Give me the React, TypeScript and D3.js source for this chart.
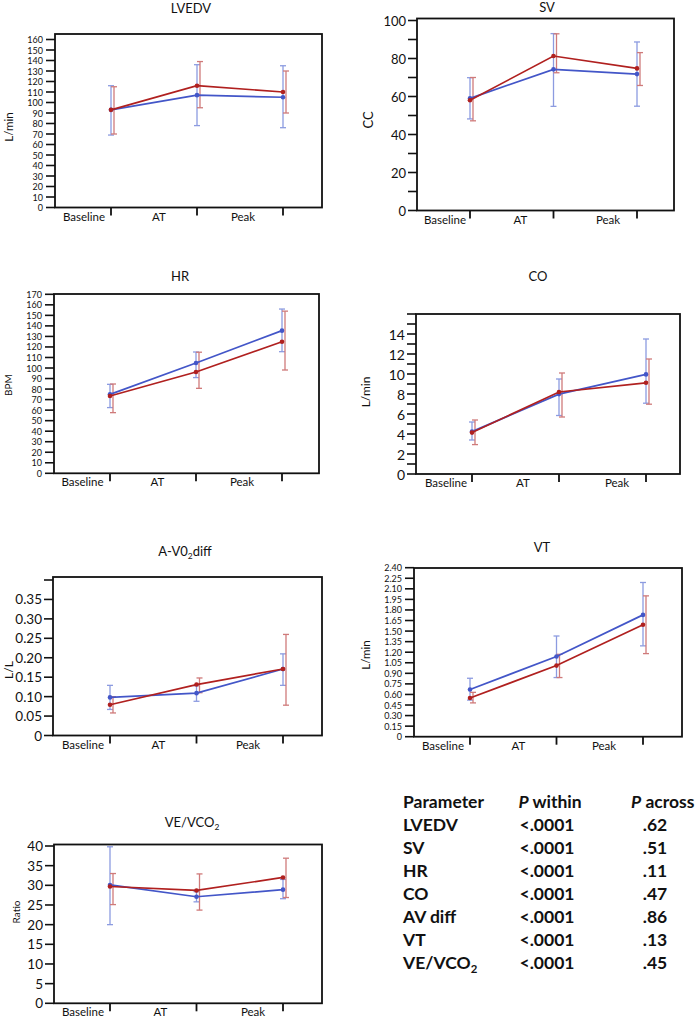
import React from "react";
import * as d3 from "d3";

const categories = ["Baseline", "AT", "Peak"];

// [mean, low, high]
const lvedvBlue = [[93, 69, 116], [107, 78, 136], [105, 76, 135]];
const lvedvRed = [[93, 70, 115], [116, 95, 139], [110, 90, 130]];
const svBlue = [[59, 48.2, 69.9], [74.3, 54.8, 93.1], [71.8, 54.9, 88.7]];
const svRed = [[58, 47.2, 70], [81.3, 72.5, 93], [74.8, 65.8, 83.1]];
const hrBlue = [[75, 62.4, 84.5], [104.8, 90.9, 115.2], [135.5, 115.5, 156]];
const hrRed = [[73.4, 57.6, 84.8], [96.2, 80.7, 115], [125, 98.1, 154]];
const coBlue = [[4.24, 3.4, 5.2], [7.99, 5.85, 9.5], [9.96, 7.08, 13.5]];
const coRed = [[4.14, 2.94, 5.4], [8.2, 5.7, 10.1], [9.12, 6.98, 11.5]];
const avBlue = [[0.098, 0.067, 0.129], [0.109, 0.088, 0.128], [0.171, 0.129, 0.21]];
const avRed = [[0.079, 0.058, 0.1], [0.131, 0.11, 0.148], [0.171, 0.078, 0.26]];
const vtBlue = [[0.67, 0.52, 0.83], [1.14, 0.84, 1.43], [1.73, 1.29, 2.19]];
const vtRed = [[0.55, 0.48, 0.63], [1.01, 0.84, 1.17], [1.59, 1.18, 2.0]];
const veBlue = [[30.1, 20, 39.8], [27.1, 25.8, 28.4], [28.9, 26.6, 31.5]];
const veRed = [[29.7, 25.1, 33], [28.7, 23.7, 32.9], [32, 26.9, 36.9]];

const tableParams = ["LVEDV", "SV", "HR", "CO", "AV diff", "VT", "VE/VCO2"];
const tableWithin = ["<.0001", "<.0001", "<.0001", "<.0001", "<.0001", "<.0001", "<.0001"];
const tableAcross = [".62", ".51", ".11", ".47", ".86", ".13", ".45"];

const BLUE = "#4356c8";
const RED = "#b0201f";
const BLUE_ERR = "#8c9be0";
const RED_ERR = "#cf7a7a";
const FONT = "Lato, 'Open Sans', sans-serif";

type Cfg = {
  left: number; top: number; right: number; bottom: number;
  yTop: number; max: number; n: number; labelEvery: number;
  fmt: (v: number) => string; tickFont: number; tickGap: number;
  titleX: number; titleY: number; titleFont: number;
  ylabel: string; ylabelX: number; ylabelY: number; ylabelFont: number;
  x0: number; x2: number; shift: number[]; catFont: number;
};

function Title({ t, x, y, size }: { t: string; x: number; y: number; size: number }) {
  if (t.includes("_2")) {
    const [a, b] = t.split("_2");
    return (
      <text x={x} y={y} textAnchor="middle" fontSize={size} fontFamily={FONT} fill="#111">
        {a}
        <tspan fontSize={size * 0.65} dy={3}>2</tspan>
        <tspan dy={-3}>{b}</tspan>
      </text>
    );
  }
  return (
    <text x={x} y={y} textAnchor="middle" fontSize={size} fontFamily={FONT} fill="#111">{t}</text>
  );
}

function Panel({ cfg, title, blue, red }: { cfg: Cfg; title: string; blue: number[][]; red: number[][] }) {
  const y = d3.scaleLinear().domain([0, cfg.max]).range([cfg.bottom, cfg.yTop]);
  const x = d3.scalePoint<string>().domain(categories).range([cfg.x0, cfg.x2]);
  const ticks = d3.range(0, cfg.n + 1).map((i) => (cfg.max * i) / cfg.n);
  const line = d3
    .line<number[]>()
    .x((_, i) => x(categories[i]) as number)
    .y((d) => y(d[0]));

  const errBars = (data: number[][], color: string, off: number) =>
    data.map((d, i) => {
      const cx = (x(categories[i]) as number) + off;
      return (
        <g key={i} stroke={color} strokeWidth={1.3}>
          <line x1={cx} x2={cx} y1={y(d[1])} y2={y(d[2])} />
          <line x1={cx - 3} x2={cx + 3} y1={y(d[1])} y2={y(d[1])} />
          <line x1={cx - 3} x2={cx + 3} y1={y(d[2])} y2={y(d[2])} />
        </g>
      );
    });

  const marks = (data: number[][], color: string) => (
    <g>
      <path d={line(data) as string} fill="none" stroke={color} strokeWidth={1.7} />
      {data.map((d, i) => (
        <circle key={i} cx={x(categories[i]) as number} cy={y(d[0])} r={2.3} fill={color} />
      ))}
    </g>
  );

  return (
    <g>
      <Title t={title} x={cfg.titleX} y={cfg.titleY} size={cfg.titleFont} />
      <text
        transform={`translate(${cfg.ylabelX},${cfg.ylabelY}) rotate(-90)`}
        textAnchor="middle"
        dominantBaseline="central"
        fontSize={cfg.ylabelFont}
        fontFamily={FONT}
        fill="#111"
      >
        {cfg.ylabel}
      </text>
      {ticks.map((t, i) => (
        <g key={i}>
          <line x1={cfg.left - 9} x2={cfg.left} y1={y(t)} y2={y(t)} stroke="#111" strokeWidth={1.6} />
          {i % cfg.labelEvery === 0 && cfg.fmt(t) !== "" && (
            <text
              x={cfg.left - cfg.tickGap}
              y={y(t)}
              textAnchor="end"
              dominantBaseline="central"
              fontSize={cfg.tickFont}
              fontFamily={FONT}
              fill="#111"
            >
              {cfg.fmt(t)}
            </text>
          )}
        </g>
      ))}
      {categories.map((c, i) => {
        const cx = x(c) as number;
        return (
          <g key={c}>
            <line x1={cx} x2={cx} y1={cfg.bottom} y2={cfg.bottom + 8} stroke="#111" strokeWidth={1.8} />
            <text
              x={cx + cfg.shift[i]}
              y={cfg.bottom + 13}
              textAnchor="middle"
              fontSize={cfg.catFont}
              fontFamily={FONT}
              fill="#111"
            >
              {c}
            </text>
          </g>
        );
      })}
      {errBars(blue, BLUE_ERR, 0)}
      {errBars(red, RED_ERR, 3)}
      {marks(blue, BLUE)}
      {marks(red, RED)}
      <rect
        x={cfg.left}
        y={cfg.top}
        width={cfg.right - cfg.left}
        height={cfg.bottom - cfg.top}
        fill="none"
        stroke="#111"
        strokeWidth={1.8}
      />
    </g>
  );
}

const fInt = (v: number) => d3.format("d")(Math.round(v));
const hideTopInt = (max: number) => (v: number) => (Math.abs(v - max) < 1e-9 ? "" : fInt(v));
const f2 = (max: number, hideTop: boolean) => (v: number) =>
  v === 0 ? "0" : hideTop && Math.abs(v - max) < 1e-9 ? "" : d3.format(".2f")(v);

const cfgLvedv: Cfg = {
  left: 55, top: 34, right: 322, bottom: 207.5, yTop: 39.5, max: 160, n: 16, labelEvery: 1,
  fmt: fInt, tickFont: 9, tickGap: 12, titleX: 191, titleY: 13, titleFont: 13,
  ylabel: "L/min", ylabelX: 8, ylabelY: 127, ylabelFont: 11.5,
  x0: 111, x2: 283, shift: [-27, -38, -40], catFont: 11.5,
};
const cfgSv: Cfg = {
  left: 417, top: 18.5, right: 674, bottom: 210.5, yTop: 20.5, max: 100, n: 10, labelEvery: 2,
  fmt: fInt, tickFont: 13, tickGap: 11, titleX: 547, titleY: 12, titleFont: 13,
  ylabel: "CC", ylabelX: 368, ylabelY: 120, ylabelFont: 13,
  x0: 470, x2: 637, shift: [-25, -33, -29], catFont: 11.5,
};
const cfgHr: Cfg = {
  left: 54, top: 294, right: 319, bottom: 473.3, yTop: 294.3, max: 170, n: 17, labelEvery: 1,
  fmt: fInt, tickFont: 9, tickGap: 12, titleX: 180, titleY: 281, titleFont: 13,
  ylabel: "BPM", ylabelX: 8, ylabelY: 385, ylabelFont: 10,
  x0: 110, x2: 282, shift: [-27.5, -38.5, -40], catFont: 11.5,
};
const cfgCo: Cfg = {
  left: 416, top: 314, right: 680, bottom: 474, yTop: 314, max: 16, n: 16, labelEvery: 2,
  fmt: hideTopInt(16), tickFont: 14, tickGap: 11, titleX: 538, titleY: 281, titleFont: 13,
  ylabel: "L/min", ylabelX: 365, ylabelY: 392, ylabelFont: 12,
  x0: 472, x2: 646, shift: [-26, -36, -29], catFont: 11.5,
};
const cfgAv: Cfg = {
  left: 53, top: 577, right: 322, bottom: 735.5, yTop: 580, max: 0.4, n: 8, labelEvery: 1,
  fmt: f2(0.4, true), tickFont: 13.5, tickGap: 11, titleX: 185, titleY: 556, titleFont: 13,
  ylabel: "L/L", ylabelX: 8, ylabelY: 670, ylabelFont: 12,
  x0: 110, x2: 283, shift: [-27, -38, -35], catFont: 11.5,
};
const cfgVt: Cfg = {
  left: 414, top: 568, right: 682, bottom: 736.7, yTop: 567.7, max: 2.4, n: 16, labelEvery: 1,
  fmt: f2(2.4, false), tickFont: 9, tickGap: 12, titleX: 542, titleY: 552, titleFont: 13,
  ylabel: "L/min", ylabelX: 365, ylabelY: 655, ylabelFont: 11.5,
  x0: 470, x2: 643, shift: [-27, -38, -39], catFont: 11.5,
};
const cfgVe: Cfg = {
  left: 54, top: 844.5, right: 322, bottom: 1003.3, yTop: 846, max: 40, n: 8, labelEvery: 1,
  fmt: fInt, tickFont: 13.5, tickGap: 11, titleX: 192, titleY: 827, titleFont: 13,
  ylabel: "Ratio", ylabelX: 16, ylabelY: 912, ylabelFont: 10,
  x0: 110, x2: 283, shift: [-27, -36, -30], catFont: 11.5,
};

function Table() {
  const base = 808.3;
  const step = 22.9;
  const fs = 17.5;
  return (
    <g fontFamily={FONT} fontWeight="bold" fontSize={fs} fill="#111">
      <text x={403} y={base}>Parameter</text>
      <text x={550} y={base} textAnchor="middle">
        <tspan fontStyle="italic">P</tspan> within
      </text>
      <text x={631} y={base}>
        <tspan fontStyle="italic">P</tspan> across
      </text>
      {tableParams.map((p, i) => {
        const yy = base + step * (i + 1);
        const sub = p.endsWith("2");
        return (
          <g key={p}>
            <text x={403} y={yy}>
              {sub ? p.slice(0, -1) : p}
              {sub && (
                <tspan fontSize={fs * 0.65} dy={4}>2</tspan>
              )}
            </text>
            <text x={547} y={yy} textAnchor="middle">{tableWithin[i]}</text>
            <text x={655} y={yy} textAnchor="middle">{tableAcross[i]}</text>
          </g>
        );
      })}
    </g>
  );
}

export default function App() {
  return (
    <svg
      width={697}
      height={1018}
      style={{ position: "absolute", left: 0, top: 0, background: "#fff" }}
    >
      <rect width={697} height={1018} fill="#fff" />
      <Panel cfg={cfgLvedv} title="LVEDV" blue={lvedvBlue} red={lvedvRed} />
      <Panel cfg={cfgSv} title="SV" blue={svBlue} red={svRed} />
      <Panel cfg={cfgHr} title="HR" blue={hrBlue} red={hrRed} />
      <Panel cfg={cfgCo} title="CO" blue={coBlue} red={coRed} />
      <Panel cfg={cfgAv} title="A-V0_2diff" blue={avBlue} red={avRed} />
      <Panel cfg={cfgVt} title="VT" blue={vtBlue} red={vtRed} />
      <Panel cfg={cfgVe} title="VE/VCO_2" blue={veBlue} red={veRed} />
      <Table />
    </svg>
  );
}
